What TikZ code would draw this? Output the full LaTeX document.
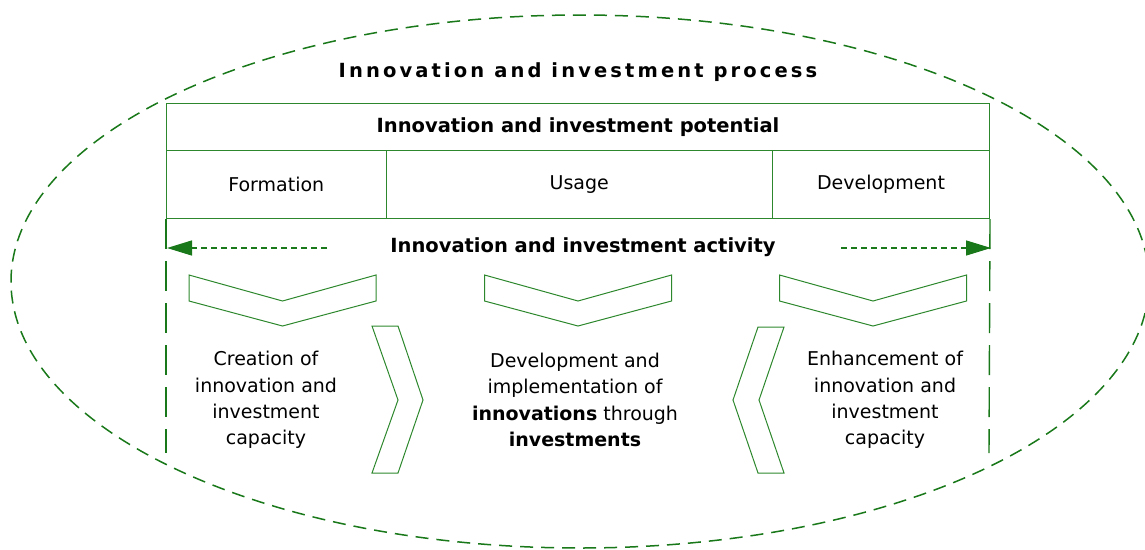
\documentclass[tikz,border=0pt]{standalone}
\usepackage{fontspec}
\setmainfont{DejaVu Sans}
\newfontfamily\spacedfont[LetterSpace=16]{DejaVu Sans}
\usetikzlibrary{arrows.meta}
\definecolor{eg}{RGB}{25,120,25}
\definecolor{tg}{RGB}{45,135,45}
\begin{document}
\begin{tikzpicture}[x=1pt,y=-1pt,
  txt/.style={font=\fontsize{19}{26.3}\selectfont, align=center, inner sep=0pt},
  boldtxt/.style={font=\fontsize{19.5}{23}\selectfont\bfseries, inner sep=0pt},
  cell/.style={draw=tg, line width=1pt, inner sep=0pt, font=\fontsize{19}{23}\selectfont},
  chev/.style={draw=tg, line width=1pt, line join=miter},
  vdash/.style={draw=eg, line width=1.4pt, dash pattern=on 30pt off 12pt},
  darr/.style={draw=eg, line width=1.3pt, dash pattern=on 6pt off 4pt, -{Triangle[length=25pt,width=15pt]}}]
\useasboundingbox (0,0) rectangle (1145,549);
% outer dashed ellipse
\draw[eg, line width=1.5pt, dash pattern=on 13pt off 8pt] (580,281.5) ellipse [x radius=569pt, y radius=266.5pt];
% title
\node[inner sep=0pt, font=\fontsize{19.5}{23}\selectfont\spacedfont\bfseries] (title) at (578,72) {Innovation and investment process};
% table
\node[cell, minimum width=823pt, minimum height=47pt, anchor=north west, font=\fontsize{19.5}{23}\selectfont\bfseries] (pot) at (166,103) {Innovation and investment potential};
\node[cell, minimum width=219.5pt, minimum height=68pt, anchor=north west] (form) at (166,150) {Formation};
\node[cell, minimum width=386.5pt, minimum height=68pt, anchor=north west] (usage) at (385.5,150) {Usage};
\node[cell, minimum width=217pt, minimum height=68pt, anchor=north west] (dev) at (772,150) {Development};
% activity
\node[boldtxt] (act) at (583,247) {Innovation and investment activity};
\coordinate (bl) at (166,453);
\coordinate (br) at (989,453);
\draw[vdash] (form.south west) -- (bl);
\draw[vdash] (dev.south east) -- (br);
\coordinate (la) at (327,248);
\coordinate (lt) at (167,248);
\coordinate (ra) at (841,248);
\coordinate (rt) at (991,248);
\draw[darr] (la) -- (lt);
\draw[darr] (ra) -- (rt);
% down chevrons
\foreach \cx in {282.5,578,873}{
  \draw[chev] (\cx-93.5,275) -- (\cx,301) -- (\cx+93.5,275) -- (\cx+93.5,301) -- (\cx,326) -- (\cx-93.5,301) -- cycle;
}
% side chevrons
\draw[chev] (372,326) -- (398,326) -- (423,400) -- (398,473) -- (372,473) -- (398,400) -- cycle;
\draw[chev] (758,327) -- (784,327) -- (759,400) -- (784,473) -- (758,473) -- (733,400) -- cycle;
% texts
\node[txt] (t1) at (266,400) {Creation of\\innovation and\\investment\\capacity};
\node[txt] (t2) at (575,400) {Development and\\implementation of\\\textbf{innovations} through\\\textbf{investments}};
\node[txt] (t3) at (885,400) {Enhancement of\\innovation and\\investment\\capacity};
\end{tikzpicture}
\end{document}
